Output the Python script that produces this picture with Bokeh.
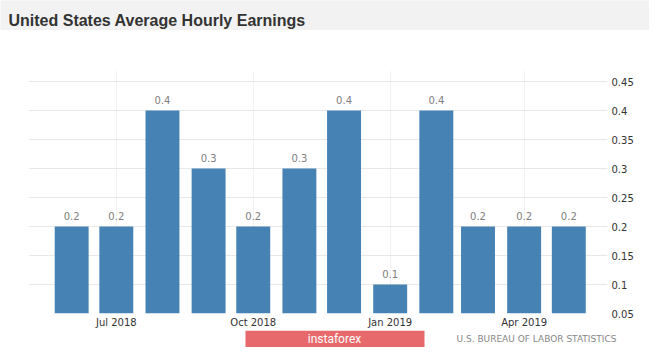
import pandas as pd
from bokeh.plotting import figure
from bokeh.layouts import column
from bokeh.models import Range1d, FixedTicker, DatetimeTickFormatter, ColumnDataSource
from bokeh.core.properties import value
from bokeh.embed import file_html
from bokeh.resources import INLINE

title = "United States Average Hourly Earnings"
months = ["2018-06-01", "2018-07-01", "2018-08-01", "2018-09-01", "2018-10-01", "2018-11-01",
          "2018-12-01", "2019-01-01", "2019-02-01", "2019-03-01", "2019-04-01", "2019-05-01"]
values = [0.2, 0.2, 0.4, 0.3, 0.2, 0.3, 0.4, 0.1, 0.4, 0.2, 0.2, 0.2]
value_labels = ["0.2", "0.2", "0.4", "0.3", "0.2", "0.3", "0.4", "0.1", "0.4", "0.2", "0.2", "0.2"]
x_ticks = ["2018-07-01", "2018-10-01", "2019-01-01", "2019-04-01"]
x_tick_labels = ["Jul 2018", "Oct 2018", "Jan 2019", "Apr 2019"]
y_ticks = [0.05, 0.1, 0.15, 0.2, 0.25, 0.3, 0.35, 0.4, 0.45]
y_tick_labels = ["0.05", "0.1", "0.15", "0.2", "0.25", "0.3", "0.35", "0.4", "0.45"]
source_text = "U.S. BUREAU OF LABOR STATISTICS"
brand = "instaforex"

W = 649


def to_ms(d):
    return pd.Timestamp(d).value // 10**6


def strip(h, bg):
    f = figure(width=W, height=h, x_range=Range1d(0, W), y_range=Range1d(h, 0),
               output_backend="svg", toolbar_location=None, title=None,
               x_axis_type=None, y_axis_type=None, frame_align=False,
               min_border_left=0, min_border_right=0, min_border_top=0, min_border_bottom=0)
    f.outline_line_color = None
    f.background_fill_color = bg
    f.border_fill_color = bg
    f.grid.visible = False
    return f


# ---- title band ----
top = strip(30, "#f2f2f2")
top.text(x=[8], y=[20], text=[title], text_font=value("Liberation Sans"),
         text_font_style="bold", text_font_size="16px", text_color="#333333",
         text_baseline="alphabetic")

# ---- main chart ----
dates = pd.to_datetime(months)
src = ColumnDataSource(dict(x=dates, top=values, label=value_labels))

p = figure(width=W, height=300, x_axis_type="datetime", y_axis_location="right",
           output_backend="svg", toolbar_location=None, title=None, frame_align=False,
           x_range=Range1d(pd.Timestamp("2018-05-03"), pd.Timestamp("2019-05-27")),
           y_range=Range1d(0.05, 0.469),
           min_border_left=28, min_border_right=42, min_border_top=40, min_border_bottom=17)
p.outline_line_color = None
p.background_fill_color = "white"
p.border_fill_color = "white"

bar_width = 22.8 * 86400000
p.vbar(x="x", top="top", bottom=0, width=bar_width, source=src,
       fill_color="#4682b4", line_color=None)
p.text(x="x", y="top", text="label", source=src, text_align="center",
       text_baseline="middle", y_offset=-11, text_font=value("DejaVu Sans"),
       text_font_size="10px", text_color="#808080")

xt = [to_ms(d) for d in x_ticks]
xax = p.xaxis[0]
xax.ticker = FixedTicker(ticks=xt)
xax.formatter = DatetimeTickFormatter(months="%b %Y", days="%b %Y", years="%b %Y")
xax.major_label_overrides = {t: l for t, l in zip(xt, x_tick_labels)}
xax.axis_line_color = None
xax.major_tick_line_color = None
xax.minor_tick_line_color = None
xax.major_tick_out = 0
xax.major_tick_in = 0
xax.minor_tick_out = 0
xax.major_label_standoff = 3
xax.major_label_text_font = "DejaVu Sans"
xax.major_label_text_font_size = "10px"
xax.major_label_text_color = "#333333"

yax = p.yaxis[0]
yax.ticker = FixedTicker(ticks=y_ticks)
yax.major_label_overrides = {t: l for t, l in zip(y_ticks, y_tick_labels)}
yax.axis_line_color = None
yax.major_tick_line_color = None
yax.minor_tick_line_color = None
yax.major_tick_out = 0
yax.major_tick_in = 0
yax.minor_tick_out = 0
yax.major_label_standoff = 4
yax.major_label_text_font = "DejaVu Sans"
yax.major_label_text_font_size = "10px"
yax.major_label_text_color = "#333333"

p.xgrid.ticker = FixedTicker(ticks=xt)
p.xgrid.grid_line_color = "#f2f2f2"
p.ygrid.ticker = FixedTicker(ticks=y_ticks)
p.ygrid.grid_line_color = "#e8e8e8"

# ---- footer ----
bot = strip(17, "white")
bot.quad(left=[245], right=[424], top=[0], bottom=[17], fill_color="#e8696b", line_color=None)
bot.text(x=[334], y=[8], text=[brand], text_font=value("Roboto"), text_font_size="12px",
         text_color="white", text_align="center", text_baseline="middle")
bot.text(x=[456], y=[8], text=[source_text], text_font=value("DejaVu Sans"),
         text_font_size="9px", text_color="#888888", text_baseline="middle")

layout = column(top, p, bot, spacing=0)
open("out.html", "w").write(file_html(layout, INLINE))
